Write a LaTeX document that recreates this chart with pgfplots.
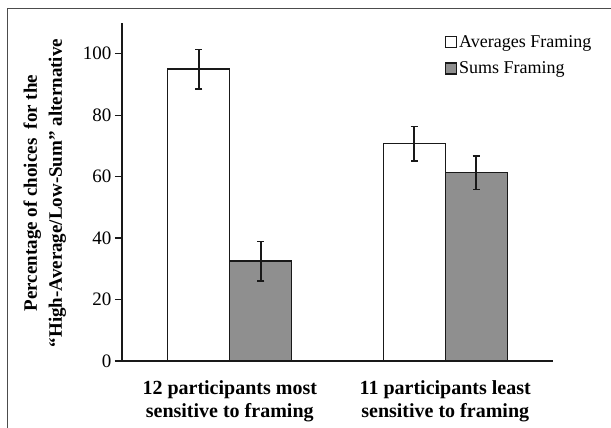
\documentclass[border=0pt]{standalone}
\usepackage{fontspec}
\setmainfont{Liberation Serif}
\usepackage{pgfplots}
\pgfplotsset{compat=1.18}
\definecolor{barGray}{RGB}{143,143,143}
\begin{document}
\begin{tikzpicture}
\path[use as bounding box] (0,0) rectangle (611bp,428bp);
\draw[line width=1bp, black!70] (7bp,0) -- (7bp,419bp) -- (611bp,419bp);
\begin{axis}[
  at={(122bp,67bp)}, anchor=south west,
  scale only axis, width=431bp, height=338bp,
  ymin=0, ymax=110, xmin=-0.5, xmax=1.5,
  axis x line=bottom, axis y line=left,
  axis line style={-, line width=1.3bp, black!90},
  x axis line style={shorten <=-7bp},
  ytick={0,20,40,60,80,100},
  xtick={0,1},
  xticklabels={{12 participants most\\sensitive to framing},{11 participants least\\sensitive to framing}},
  xticklabel style={font=\fontsize{20bp}{23bp}\selectfont\bfseries, align=center, yshift=-9bp},
  yticklabel style={font=\fontsize{19bp}{22bp}\selectfont},
  /pgf/number format/assume math mode=true,
  tick align=outside, major tick length=7bp,
  ytick style={line width=1.3bp, black!90},
  xtick style={draw=none},
  ybar=0pt, bar width=62bp,
  ylabel={Percentage of choices \ for the\\``High-Average/Low-Sum'' alternative},
  every axis y label/.style={at={(rel axis cs:-0.179,0.497)}, rotate=90, anchor=center, align=center, font=\fontsize{19bp}{25bp}\selectfont\bfseries},
  legend style={at={(rel axis cs:0.749,0.97)}, anchor=north west, draw=none, fill=none,
    font=\fontsize{18bp}{20bp}\selectfont, row sep=9bp, inner sep=0pt,
    /tikz/every even column/.append style={column sep=0pt}},
  legend cell align=left,
  legend image code/.code={\draw[#1, line width=1.2bp] (0bp,-5.5bp) rectangle (11bp,5.5bp);},
]
\addplot[fill=white, draw=black!90, line width=1.4bp,
  error bars/.cd, y dir=both, y explicit,
  error bar style={line width=1.6bp, black!90},
  error mark options={rotate=90, mark size=3.7bp, line width=1.6bp, black!90}]
  coordinates {(0,95) +- (0,6.4) (1,70.7) +- (0,5.6)};
\addplot[fill=barGray, draw=black!90, line width=1.4bp,
  error bars/.cd, y dir=both, y explicit,
  error bar style={line width=1.6bp, black!90},
  error mark options={rotate=90, mark size=3.7bp, line width=1.6bp, black!90}]
  coordinates {(0,32.5) +- (0,6.4) (1,61.3) +- (0,5.5)};
\legend{Averages Framing, Sums Framing}
\end{axis}
\end{tikzpicture}
\end{document}
